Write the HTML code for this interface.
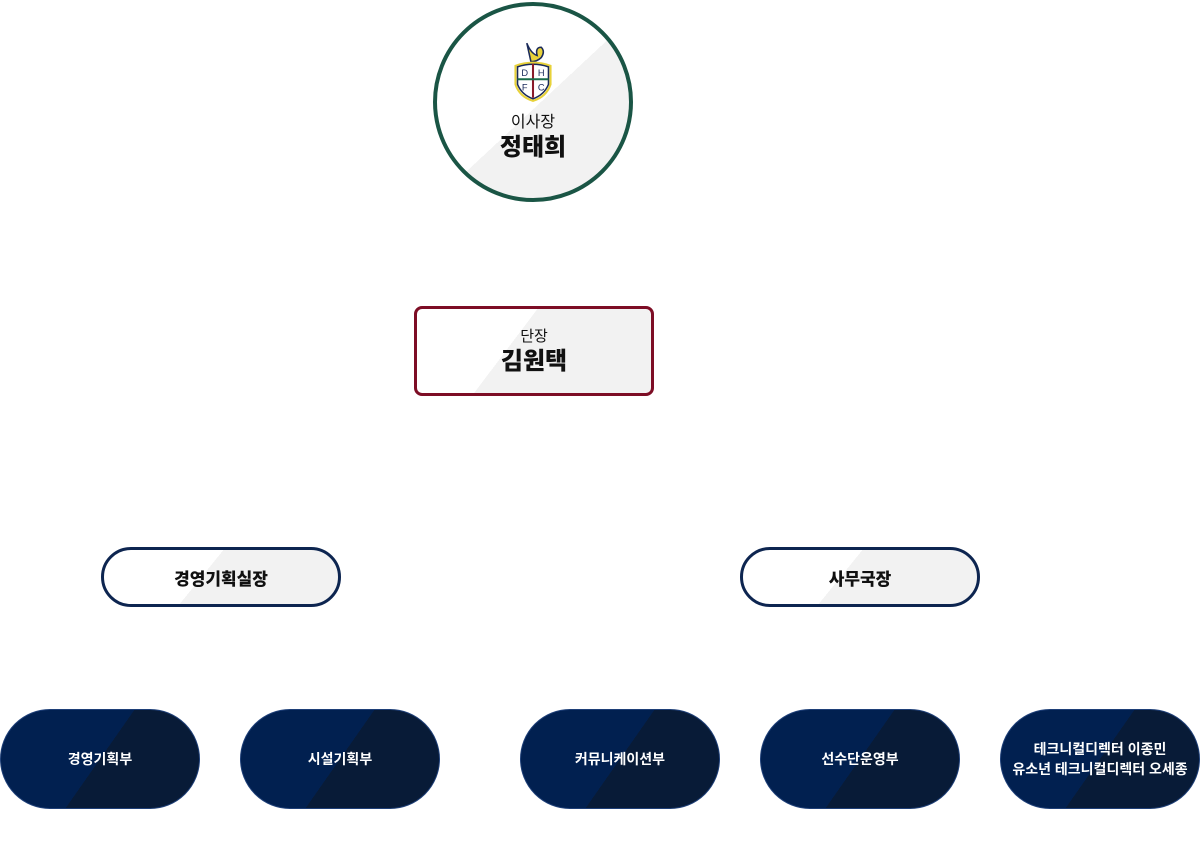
<!DOCTYPE html>
<html><head><meta charset="utf-8"><style>
html,body{margin:0;padding:0;background:#fff;}
body{width:1200px;height:864px;position:relative;overflow:hidden;font-family:"Liberation Sans","Noto Sans CJK KR",sans-serif;}
.n{position:absolute;box-sizing:border-box;display:flex;flex-direction:column;align-items:center;justify-content:center;text-align:center;color:#111;}
.circle{left:433px;top:2px;width:200px;height:200px;border-radius:50%;border:4px solid #1a5545;background:linear-gradient(137deg,#fff 52%,#f2f2f2 52%);}
.rect{left:414px;top:306px;width:240px;height:90px;border-radius:8px;border:3px solid #7d0d25;background:linear-gradient(127deg,#fff 40.5%,#f2f2f2 40.5%);}
.pill{top:547px;width:240px;height:60px;border-radius:30px;border:3px solid #0d2550;background:linear-gradient(129deg,#fff 43%,#f2f2f2 43%);font-weight:900;font-size:17px;}
.dark{top:709px;width:200px;height:100px;border-radius:50px;border:1px solid #1e3f78;background:linear-gradient(125deg,#012050 50%,#081b37 50%);color:#fff;font-weight:700;font-size:14px;line-height:20px;}
.sm{font-size:16px;line-height:20px;}
.big{font-size:24px;font-weight:900;line-height:30px;}
</style></head><body>
<div class="n circle">
<svg width="44" height="66" viewBox="0 0 40 64" style="margin-top:4px">
<path d="M14 4 Q18 14 24 16 Q22 8 28 8 Q32 12 28 18 Q24 22 18 22 Z" fill="#e8d23a" stroke="#1a2a5a" stroke-width="1.5"/>
<path d="M3 26 Q20 20 37 26 L37 44 Q33 56 20 60 Q7 56 3 44 Z" fill="#fff" stroke="#e8d23a" stroke-width="2"/>
<path d="M5 27 Q20 22 35 27 L35 44 Q31 54 20 58 Q9 54 5 44 Z" fill="none" stroke="#1a2a5a" stroke-width="1.5"/>
<line x1="20" y1="24" x2="20" y2="57" stroke="#8a1a2a" stroke-width="2"/>
<line x1="5" y1="39" x2="35" y2="39" stroke="#1a6b4a" stroke-width="2"/>
<text x="12" y="36" font-size="9" text-anchor="middle" fill="#1a2a5a" font-family="Liberation Sans">D</text>
<text x="28" y="36" font-size="9" text-anchor="middle" fill="#1a2a5a" font-family="Liberation Sans">H</text>
<text x="12" y="50" font-size="9" text-anchor="middle" fill="#1a2a5a" font-family="Liberation Sans">F</text>
<text x="28" y="50" font-size="9" text-anchor="middle" fill="#1a2a5a" font-family="Liberation Sans">C</text>
</svg>
<div class="sm" style="margin-top:8px">이사장</div>
<div class="big">정태희</div>
<div style="height:6px"></div>
</div>
<div class="n rect"><div class="sm" style="font-size:15px;margin-top:2px">단장</div><div class="big">김원택</div></div>
<div class="n pill" style="left:101px">경영기획실장</div>
<div class="n pill" style="left:740px">사무국장</div>
<div class="n dark" style="left:0">경영기획부</div>
<div class="n dark" style="left:240px">시설기획부</div>
<div class="n dark" style="left:520px">커뮤니케이션부</div>
<div class="n dark" style="left:760px">선수단운영부</div>
<div class="n dark" style="left:1000px">테크니컬디렉터 이종민<br>유소년 테크니컬디렉터 오세종</div>
</body></html>
